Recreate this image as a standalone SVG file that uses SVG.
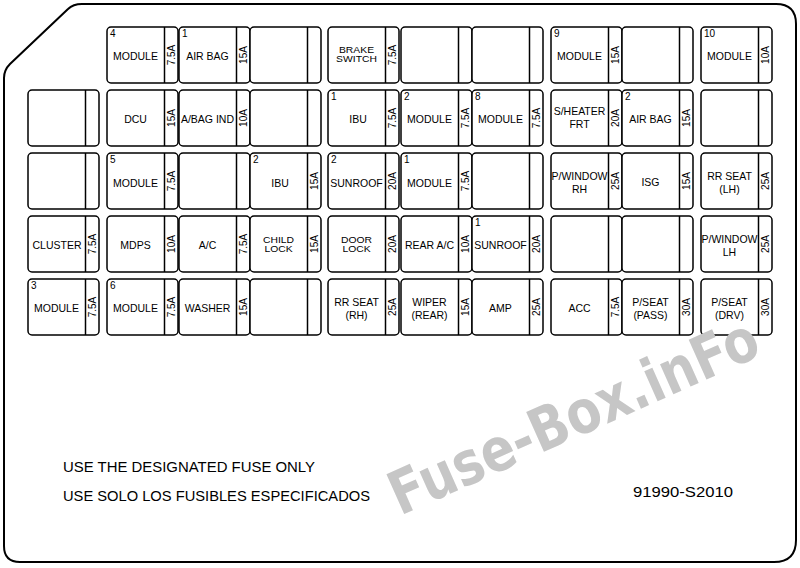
<svg xmlns="http://www.w3.org/2000/svg" width="800" height="568" viewBox="0 0 800 568">
<style>
.b{fill:#fff;stroke:#000;stroke-width:1.5}
.d{stroke:#000;stroke-width:1.5}
text{font-family:"Liberation Sans",Arial,sans-serif;fill:#000}
.l{font-size:10.5px;text-anchor:middle}
.t{font-size:9px;text-anchor:middle}
.n{font-size:10px}
.r{font-size:10px;text-anchor:middle;dominant-baseline:central}
.note{font-size:14px}
.wm{font-family:"DejaVu Sans",sans-serif;font-weight:bold;font-size:60px;fill:#c6c6c6}
</style>
<rect width="800" height="568" fill="#fff"/>
<g id="frame">
<path d="M4,78 Q4,70 10,64 L68,9 Q73,4 82,4 L776,4 Q796,4 796,24 L796,540 Q796,562 774,562 L20,562 Q4,562 4,546 Z" fill="none" stroke="#000" stroke-width="2"/>
</g>
<g id="connectors"></g>
<!-- Row 1 -->
<g id="r1c2"><rect class="b" x="107" y="27" width="71" height="56" rx="4"/><line class="d" x1="164.5" y1="27" x2="164.5" y2="83"/><text class="n" x="110" y="37">4</text><text class="l" x="135.5" y="60">MODULE</text><text class="r" transform="translate(171.5,55) rotate(-90)">7.5A</text></g>
<g id="r1c3"><rect class="b" x="179" y="27" width="71" height="56" rx="4"/><line class="d" x1="236.5" y1="27" x2="236.5" y2="83"/><text class="n" x="182" y="37">1</text><text class="l" x="207.5" y="60">AIR BAG</text><text class="r" transform="translate(243.5,55) rotate(-90)">15A</text></g>
<g id="r1c4"><rect class="b" x="250" y="27" width="71" height="56" rx="4"/><line class="d" x1="307.5" y1="27" x2="307.5" y2="83"/></g>
<g id="r1c5"><rect class="b" x="328" y="27" width="71" height="56" rx="4"/><line class="d" x1="385.5" y1="27" x2="385.5" y2="83"/><text class="t" transform="translate(356.5,52.5) scale(1.15,1)">BRAKE</text><text class="t" transform="translate(356.5,62) scale(1.15,1)">SWITCH</text><text class="r" transform="translate(392.5,55) rotate(-90)">7.5A</text></g>
<g id="r1c6"><rect class="b" x="401" y="27" width="71" height="56" rx="4"/><line class="d" x1="458.5" y1="27" x2="458.5" y2="83"/></g>
<g id="r1c7"><rect class="b" x="472" y="27" width="71" height="56" rx="4"/><line class="d" x1="529.5" y1="27" x2="529.5" y2="83"/></g>
<g id="r1c8"><rect class="b" x="551" y="27" width="71" height="56" rx="4"/><line class="d" x1="608.5" y1="27" x2="608.5" y2="83"/><text class="n" x="554" y="37">9</text><text class="l" x="579.5" y="60">MODULE</text><text class="r" transform="translate(615.5,55) rotate(-90)">15A</text></g>
<g id="r1c9"><rect class="b" x="622" y="27" width="71" height="56" rx="4"/><line class="d" x1="679.5" y1="27" x2="679.5" y2="83"/></g>
<g id="r1c10"><rect class="b" x="701" y="27" width="71" height="56" rx="4"/><line class="d" x1="758.5" y1="27" x2="758.5" y2="83"/><text class="n" x="704" y="37">10</text><text class="l" x="729.5" y="60">MODULE</text><text class="r" transform="translate(765.5,55) rotate(-90)">10A</text></g>
<!-- Row 2 -->
<g id="r2c1"><rect class="b" x="28" y="90" width="71" height="56" rx="4"/><line class="d" x1="85.5" y1="90" x2="85.5" y2="146"/></g>
<g id="r2c2"><rect class="b" x="107" y="90" width="71" height="56" rx="4"/><line class="d" x1="164.5" y1="90" x2="164.5" y2="146"/><text class="l" x="135.5" y="123">DCU</text><text class="r" transform="translate(171.5,118) rotate(-90)">15A</text></g>
<g id="r2c3"><rect class="b" x="179" y="90" width="71" height="56" rx="4"/><line class="d" x1="236.5" y1="90" x2="236.5" y2="146"/><text class="l" x="207.5" y="123">A/BAG IND</text><text class="r" transform="translate(243.5,118) rotate(-90)">10A</text></g>
<g id="r2c4"><rect class="b" x="250" y="90" width="71" height="56" rx="4"/><line class="d" x1="307.5" y1="90" x2="307.5" y2="146"/></g>
<g id="r2c5"><rect class="b" x="328" y="90" width="71" height="56" rx="4"/><line class="d" x1="385.5" y1="90" x2="385.5" y2="146"/><text class="n" x="331" y="100">1</text><text class="l" x="358" y="123">IBU</text><text class="r" transform="translate(392.5,118) rotate(-90)">7.5A</text></g>
<g id="r2c6"><rect class="b" x="401" y="90" width="71" height="56" rx="4"/><line class="d" x1="458.5" y1="90" x2="458.5" y2="146"/><text class="n" x="404" y="100">2</text><text class="l" x="429.5" y="123">MODULE</text><text class="r" transform="translate(465.5,118) rotate(-90)">7.5A</text></g>
<g id="r2c7"><rect class="b" x="472" y="90" width="71" height="56" rx="4"/><line class="d" x1="529.5" y1="90" x2="529.5" y2="146"/><text class="n" x="475" y="100">8</text><text class="l" x="500.5" y="123">MODULE</text><text class="r" transform="translate(536.5,118) rotate(-90)">7.5A</text></g>
<g id="r2c8"><rect class="b" x="551" y="90" width="71" height="56" rx="4"/><line class="d" x1="608.5" y1="90" x2="608.5" y2="146"/><text class="l" x="579.5" y="115">S/HEATER</text><text class="l" x="579.5" y="128">FRT</text><text class="r" transform="translate(615.5,118) rotate(-90)">20A</text></g>
<g id="r2c9"><rect class="b" x="622" y="90" width="71" height="56" rx="4"/><line class="d" x1="679.5" y1="90" x2="679.5" y2="146"/><text class="n" x="625" y="100">2</text><text class="l" x="650.5" y="123">AIR BAG</text><text class="r" transform="translate(686.5,118) rotate(-90)">15A</text></g>
<g id="r2c10"><rect class="b" x="701" y="90" width="71" height="56" rx="4"/><line class="d" x1="758.5" y1="90" x2="758.5" y2="146"/></g>
<!-- Row 3 -->
<g id="r3c1"><rect class="b" x="28" y="153" width="71" height="56" rx="4"/><line class="d" x1="85.5" y1="153" x2="85.5" y2="209"/></g>
<g id="r3c2"><rect class="b" x="107" y="153" width="71" height="56" rx="4"/><line class="d" x1="164.5" y1="153" x2="164.5" y2="209"/><text class="n" x="110" y="163">5</text><text class="l" x="135.5" y="187">MODULE</text><text class="r" transform="translate(171.5,181) rotate(-90)">7.5A</text></g>
<g id="r3c3"><rect class="b" x="179" y="153" width="71" height="56" rx="4"/><line class="d" x1="236.5" y1="153" x2="236.5" y2="209"/></g>
<g id="r3c4"><rect class="b" x="250" y="153" width="71" height="56" rx="4"/><line class="d" x1="307.5" y1="153" x2="307.5" y2="209"/><text class="n" x="253" y="163">2</text><text class="l" x="280" y="187">IBU</text><text class="r" transform="translate(314.5,181) rotate(-90)">15A</text></g>
<g id="r3c5"><rect class="b" x="328" y="153" width="71" height="56" rx="4"/><line class="d" x1="385.5" y1="153" x2="385.5" y2="209"/><text class="n" x="331" y="163">2</text><text class="l" x="356.5" y="187">SUNROOF</text><text class="r" transform="translate(392.5,181) rotate(-90)">20A</text></g>
<g id="r3c6"><rect class="b" x="401" y="153" width="71" height="56" rx="4"/><line class="d" x1="458.5" y1="153" x2="458.5" y2="209"/><text class="n" x="404" y="163">1</text><text class="l" x="429.5" y="187">MODULE</text><text class="r" transform="translate(465.5,181) rotate(-90)">7.5A</text></g>
<g id="r3c7"><rect class="b" x="472" y="153" width="71" height="56" rx="4"/><line class="d" x1="529.5" y1="153" x2="529.5" y2="209"/></g>
<g id="r3c8"><rect class="b" x="551" y="153" width="71" height="56" rx="4"/><line class="d" x1="608.5" y1="153" x2="608.5" y2="209"/><text class="l" x="579.5" y="180">P/WINDOW</text><text class="l" x="579.5" y="193">RH</text><text class="r" transform="translate(615.5,181) rotate(-90)">25A</text></g>
<g id="r3c9"><rect class="b" x="622" y="153" width="71" height="56" rx="4"/><line class="d" x1="679.5" y1="153" x2="679.5" y2="209"/><text class="l" x="650.5" y="186">ISG</text><text class="r" transform="translate(686.5,181) rotate(-90)">15A</text></g>
<g id="r3c10"><rect class="b" x="701" y="153" width="71" height="56" rx="4"/><line class="d" x1="758.5" y1="153" x2="758.5" y2="209"/><text class="l" x="729.5" y="180">RR SEAT</text><text class="l" x="729.5" y="193">(LH)</text><text class="r" transform="translate(765.5,181) rotate(-90)">25A</text></g>
<!-- Row 4 -->
<g id="r4c1"><rect class="b" x="28" y="216" width="71" height="56" rx="4"/><line class="d" x1="85.5" y1="216" x2="85.5" y2="272"/><text class="l" x="57" y="249">CLUSTER</text><text class="r" transform="translate(92.5,244) rotate(-90)">7.5A</text></g>
<g id="r4c2"><rect class="b" x="107" y="216" width="71" height="56" rx="4"/><line class="d" x1="164.5" y1="216" x2="164.5" y2="272"/><text class="l" x="135.5" y="249">MDPS</text><text class="r" transform="translate(171.5,244) rotate(-90)">10A</text></g>
<g id="r4c3"><rect class="b" x="179" y="216" width="71" height="56" rx="4"/><line class="d" x1="236.5" y1="216" x2="236.5" y2="272"/><text class="l" x="207.5" y="249">A/C</text><text class="r" transform="translate(243.5,244) rotate(-90)">7.5A</text></g>
<g id="r4c4"><rect class="b" x="250" y="216" width="71" height="56" rx="4"/><line class="d" x1="307.5" y1="216" x2="307.5" y2="272"/><text class="t" transform="translate(278.5,242.5) scale(1.15,1)">CHILD</text><text class="t" transform="translate(278.5,252) scale(1.15,1)">LOCK</text><text class="r" transform="translate(314.5,244) rotate(-90)">15A</text></g>
<g id="r4c5"><rect class="b" x="328" y="216" width="71" height="56" rx="4"/><line class="d" x1="385.5" y1="216" x2="385.5" y2="272"/><text class="t" transform="translate(356.5,242.5) scale(1.15,1)">DOOR</text><text class="t" transform="translate(356.5,252) scale(1.15,1)">LOCK</text><text class="r" transform="translate(392.5,244) rotate(-90)">20A</text></g>
<g id="r4c6"><rect class="b" x="401" y="216" width="71" height="56" rx="4"/><line class="d" x1="458.5" y1="216" x2="458.5" y2="272"/><text class="l" x="429.5" y="249">REAR A/C</text><text class="r" transform="translate(465.5,244) rotate(-90)">10A</text></g>
<g id="r4c7"><rect class="b" x="472" y="216" width="71" height="56" rx="4"/><line class="d" x1="529.5" y1="216" x2="529.5" y2="272"/><text class="n" x="475" y="226">1</text><text class="l" x="500.5" y="249">SUNROOF</text><text class="r" transform="translate(536.5,244) rotate(-90)">20A</text></g>
<g id="r4c8"><rect class="b" x="551" y="216" width="71" height="56" rx="4"/><line class="d" x1="608.5" y1="216" x2="608.5" y2="272"/></g>
<g id="r4c9"><rect class="b" x="622" y="216" width="71" height="56" rx="4"/><line class="d" x1="679.5" y1="216" x2="679.5" y2="272"/></g>
<g id="r4c10"><rect class="b" x="701" y="216" width="71" height="56" rx="4"/><line class="d" x1="758.5" y1="216" x2="758.5" y2="272"/><text class="l" x="729.5" y="243">P/WINDOW</text><text class="l" x="729.5" y="256">LH</text><text class="r" transform="translate(765.5,244) rotate(-90)">25A</text></g>
<!-- Row 5 -->
<g id="r5c1"><rect class="b" x="28" y="279" width="71" height="56" rx="4"/><line class="d" x1="85.5" y1="279" x2="85.5" y2="335"/><text class="n" x="31" y="289">3</text><text class="l" x="56.5" y="312">MODULE</text><text class="r" transform="translate(92.5,307) rotate(-90)">7.5A</text></g>
<g id="r5c2"><rect class="b" x="107" y="279" width="71" height="56" rx="4"/><line class="d" x1="164.5" y1="279" x2="164.5" y2="335"/><text class="n" x="110" y="289">6</text><text class="l" x="135.5" y="312">MODULE</text><text class="r" transform="translate(171.5,307) rotate(-90)">7.5A</text></g>
<g id="r5c3"><rect class="b" x="179" y="279" width="71" height="56" rx="4"/><line class="d" x1="236.5" y1="279" x2="236.5" y2="335"/><text class="l" x="207.5" y="312">WASHER</text><text class="r" transform="translate(243.5,307) rotate(-90)">15A</text></g>
<g id="r5c4"><rect class="b" x="250" y="279" width="71" height="56" rx="4"/><line class="d" x1="307.5" y1="279" x2="307.5" y2="335"/></g>
<g id="r5c5"><rect class="b" x="328" y="279" width="71" height="56" rx="4"/><line class="d" x1="385.5" y1="279" x2="385.5" y2="335"/><text class="l" x="356.5" y="306">RR SEAT</text><text class="l" x="356.5" y="319">(RH)</text><text class="r" transform="translate(392.5,307) rotate(-90)">25A</text></g>
<g id="r5c6"><rect class="b" x="401" y="279" width="71" height="56" rx="4"/><line class="d" x1="458.5" y1="279" x2="458.5" y2="335"/><text class="l" x="429.5" y="306">WIPER</text><text class="l" x="429.5" y="319">(REAR)</text><text class="r" transform="translate(465.5,307) rotate(-90)">15A</text></g>
<g id="r5c7"><rect class="b" x="472" y="279" width="71" height="56" rx="4"/><line class="d" x1="529.5" y1="279" x2="529.5" y2="335"/><text class="l" x="500.5" y="312">AMP</text><text class="r" transform="translate(536.5,307) rotate(-90)">25A</text></g>
<g id="r5c8"><rect class="b" x="551" y="279" width="71" height="56" rx="4"/><line class="d" x1="608.5" y1="279" x2="608.5" y2="335"/><text class="l" x="579.5" y="312">ACC</text><text class="r" transform="translate(615.5,307) rotate(-90)">7.5A</text></g>
<g id="r5c9"><rect class="b" x="622" y="279" width="71" height="56" rx="4"/><line class="d" x1="679.5" y1="279" x2="679.5" y2="335"/><text class="l" x="650.5" y="306">P/SEAT</text><text class="l" x="650.5" y="319">(PASS)</text><text class="r" transform="translate(686.5,307) rotate(-90)">30A</text></g>
<g id="r5c10"><rect class="b" x="701" y="279" width="71" height="56" rx="4"/><line class="d" x1="758.5" y1="279" x2="758.5" y2="335"/><text class="l" x="729.5" y="306">P/SEAT</text><text class="l" x="729.5" y="319">(DRV)</text><text class="r" transform="translate(765.5,307) rotate(-90)">30A</text></g>
<!-- Notes -->
<g id="notes">
<text class="note" x="63" y="472" textLength="252" lengthAdjust="spacingAndGlyphs">USE THE DESIGNATED FUSE ONLY</text>
<text class="note" x="63" y="501" textLength="307" lengthAdjust="spacingAndGlyphs">USE SOLO LOS FUSIBLES ESPECIFICADOS</text>
<text class="note" x="633" y="497" textLength="100" lengthAdjust="spacingAndGlyphs">91990-S2010</text>
</g>
<g id="watermark">
<text class="wm" transform="translate(400,516) rotate(-24)" textLength="398" lengthAdjust="spacingAndGlyphs">Fuse-Box.inFo</text>
</g>
</svg>
